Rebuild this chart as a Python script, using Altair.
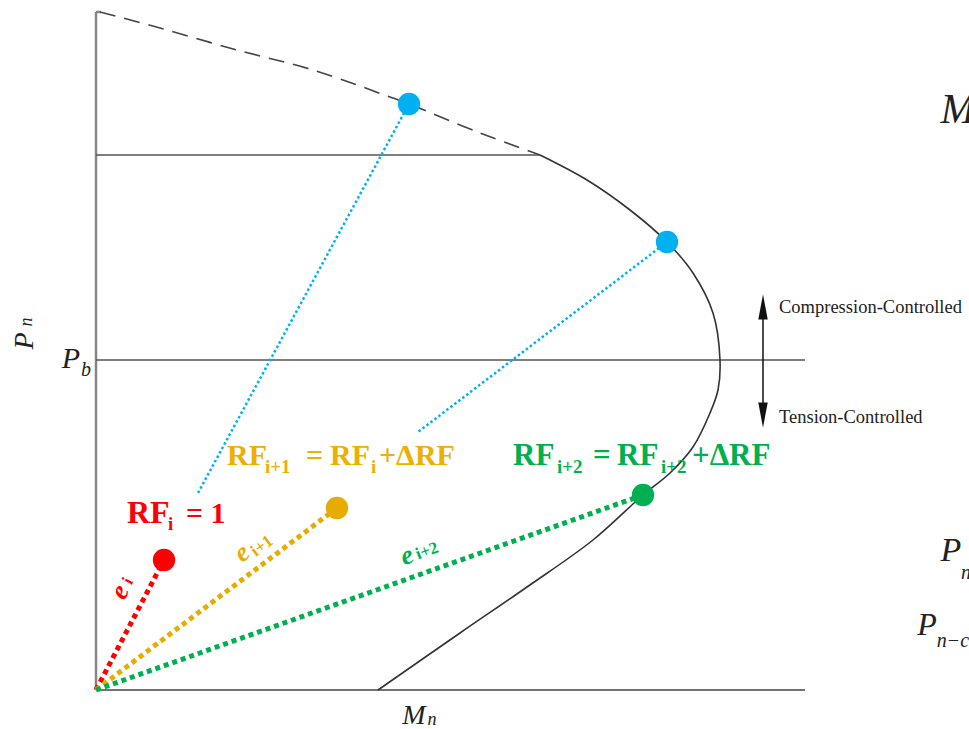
import altair as alt
import pandas as pd

W, H = 969, 729
# diagram units: M (moment) to the right, P (axial load) upward; origin at the axes corner
M_DOMAIN = [-96, 873]
P_DOMAIN = [-39, 690]

# ---------------- straight frame lines ----------------
frame_M1 = [0, 0, 0, 0, 0]
frame_P1 = [0, 678, 0, 535, 330]
frame_M2 = [0, 5, 709, 444, 709]
frame_P2 = [678, 678, 0, 535, 330]
frame_color = ["#858585", "#858585", "#444444", "#555555", "#555555"]
frame_width = [2.5, 2.5, 1.6, 1.6, 1.6]

# ---------------- interaction curve ----------------
dash_M = [4, 64, 141, 217, 294, 313, 384, 444]
dash_P = [678, 662, 640, 620, 593, 586, 557, 535]

curve_M = [444, 491, 534, 571, 597, 617, 624, 622, 614, 597, 574, 547, 497, 431, 364, 282]
curve_P = [535, 510, 480, 448, 417, 377, 330, 300, 277, 243, 217, 195, 150, 103, 57, 0]

# ---------------- iteration points ----------------
pt_name = ["blue1", "blue2", "red", "gold", "green"]
pt_M = [313, 571, 68, 241, 547]
pt_P = [586, 448, 130, 182, 195]
pt_color = ["#00B0F0", "#00B0F0", "#FF0000", "#E6AC00", "#00B050"]

# eccentricity rays from the origin (thick dotted)
ray_M2 = [68, 241, 547]
ray_P2 = [130, 182, 195]
ray_color = ["#FF0000", "#E6AC00", "#00B050"]

# blue thin dotted leaders
lead_M1 = [313, 571]
lead_P1 = [586, 448]
lead_M2 = [102, 322]
lead_P2 = [197, 258]

# ---------------- bold labels (RF) ----------------
bold_text = ["RF", "i", "= 1",
             "RF", "i+1", "=", "RF", "i", "+ΔRF",
             "RF", "i+2", "=", "RF", "i+2", "+ΔRF"]
bold_M = [31, 72, 90,
          131, 169, 210, 234, 275, 283,
          417, 461, 497, 521, 565, 596]
bold_P = [167, 160, 167,
          225, 217, 225, 225, 217, 225,
          225, 217, 225, 225, 217, 225]
bold_size = [32, 19, 30,
             30, 19, 30, 30, 19, 30,
             31, 19, 31, 31, 19, 31]
bold_color = ["#FF0000"] * 3 + ["#EDB000"] * 6 + ["#00B050"] * 6

# ---------------- e labels along the rays ----------------
e_M = [24, 146, 311]
e_P = [98, 137, 134]
e_angle = [298, 323, 340]
e_color = ["#FF0000", "#E6AC00", "#00B050"]

esub_text = ["i", "i+1", "i+2"]
esub_M = [32, 166, 331]
esub_P = [109, 144, 139]

# ---------------- italic labels ----------------
it_text = ["P", "n", "P", "b", "M", "n", "M", "P", "n", "P", "n−c"]
it_M = [-71, -69, -25, -10, 318, 336, 862, 855, 870, 831, 857]
it_P = [349, 368, 331, 320, -26, -30, 580, 139, 117, 65, 49]
it_size = [28, 18, 30, 20, 28, 18, 42, 34, 20, 32, 20]
it_angle = [270, 270, 0, 0, 0, 0, 0, 0, 0, 0, 0]

# ---------------- regime annotation ----------------
reg_text = ["Compression-Controlled", "Tension-Controlled"]
reg_M = [683, 683]
reg_P = [383, 273]

arrow_M = [667]
arrow_P1 = [390]
arrow_P2 = [268]
head_M = [667, 667]
head_P = [383, 275]
head_shape = ["M0,-1L0.38,1L-0.38,1Z", "M0,1L0.38,-1L-0.38,-1Z"]

xs = alt.Scale(domain=M_DOMAIN, nice=False, zero=False)
ys = alt.Scale(domain=P_DOMAIN, nice=False, zero=False)


def X(f):
    return alt.X(f, type="quantitative", scale=xs, axis=None)


def Y(f):
    return alt.Y(f, type="quantitative", scale=ys, axis=None)


frame = alt.Chart(pd.DataFrame({"M": frame_M1, "P": frame_P1, "M2": frame_M2, "P2": frame_P2,
                                "c": frame_color, "w": frame_width})).mark_rule(strokeCap="butt").encode(
    x=X("M"), y=Y("P"), x2="M2", y2="P2",
    color=alt.Color("c:N", scale=None),
    strokeWidth=alt.StrokeWidth("w:Q", scale=None))

dashed = alt.Chart(pd.DataFrame({"M": dash_M, "P": dash_P, "i": range(len(dash_M))})).mark_line(
    interpolate="catmull-rom", color="#444444", strokeWidth=1.6, strokeDash=[16, 9]).encode(
    x=X("M"), y=Y("P"), order="i:Q")

solid = alt.Chart(pd.DataFrame({"M": curve_M, "P": curve_P, "i": range(len(curve_M))})).mark_line(
    interpolate="catmull-rom", color="#333333", strokeWidth=1.6).encode(
    x=X("M"), y=Y("P"), order="i:Q")

rays = alt.Chart(pd.DataFrame({"M": [0, 0, 0], "P": [0, 0, 0], "M2": ray_M2, "P2": ray_P2,
                               "c": ray_color})).mark_rule(strokeWidth=5, strokeDash=[5, 4], strokeCap="butt").encode(
    x=X("M"), y=Y("P"), x2="M2", y2="P2", color=alt.Color("c:N", scale=None))

leaders = alt.Chart(pd.DataFrame({"M": lead_M1, "P": lead_P1, "M2": lead_M2, "P2": lead_P2})).mark_rule(
    strokeWidth=2.5, strokeDash=[2.5, 2.5], color="#00B0F0", strokeCap="butt").encode(
    x=X("M"), y=Y("P"), x2="M2", y2="P2")

points = alt.Chart(pd.DataFrame({"name": pt_name, "M": pt_M, "P": pt_P, "c": pt_color})).mark_circle(
    size=500, opacity=1).encode(x=X("M"), y=Y("P"), color=alt.Color("c:N", scale=None))

bold = alt.Chart(pd.DataFrame({"t": bold_text, "M": bold_M, "P": bold_P, "s": bold_size,
                               "c": bold_color})).mark_text(
    font="Liberation Serif", fontWeight="bold", align="left", baseline="alphabetic").encode(
    x=X("M"), y=Y("P"), text="t:N", size=alt.Size("s:Q", scale=None), color=alt.Color("c:N", scale=None))

e_lab = alt.Chart(pd.DataFrame({"t": ["e"] * 3, "M": e_M, "P": e_P, "a": e_angle, "c": e_color})).mark_text(
    font="Liberation Serif", fontStyle="italic", fontWeight="bold", fontSize=27,
    align="center", baseline="middle").encode(
    x=X("M"), y=Y("P"), text="t:N", angle=alt.Angle("a:Q", scale=None), color=alt.Color("c:N", scale=None))

e_sub = alt.Chart(pd.DataFrame({"t": esub_text, "M": esub_M, "P": esub_P, "a": e_angle, "c": e_color})).mark_text(
    font="Liberation Serif", fontWeight="bold", fontSize=17, align="center", baseline="middle").encode(
    x=X("M"), y=Y("P"), text="t:N", angle=alt.Angle("a:Q", scale=None), color=alt.Color("c:N", scale=None))

ital = alt.Chart(pd.DataFrame({"t": it_text, "M": it_M, "P": it_P, "s": it_size, "a": it_angle})).mark_text(
    font="Liberation Serif", fontStyle="italic", align="center", baseline="middle", color="#222222").encode(
    x=X("M"), y=Y("P"), text="t:N", size=alt.Size("s:Q", scale=None), angle=alt.Angle("a:Q", scale=None))

regime = alt.Chart(pd.DataFrame({"t": reg_text, "M": reg_M, "P": reg_P})).mark_text(
    font="Liberation Serif", fontSize=18.5, align="left", baseline="middle", color="#222222").encode(
    x=X("M"), y=Y("P"), text="t:N")

arrow = alt.Chart(pd.DataFrame({"M": arrow_M, "P": arrow_P1, "P2": arrow_P2})).mark_rule(
    color="#111111", strokeWidth=1.5).encode(x=X("M"), y=Y("P"), y2="P2")

heads = alt.Chart(pd.DataFrame({"M": head_M, "P": head_P, "sh": head_shape})).mark_point(
    filled=True, size=625, color="#111111", opacity=1).encode(
    x=X("M"), y=Y("P"), shape=alt.Shape("sh:N", scale=None))

chart = alt.layer(frame, dashed, solid, leaders, rays, points, bold, e_lab, e_sub, ital, regime, arrow,
                  heads).properties(
    width=W, height=H, padding=0, autosize=alt.AutoSizeParams(type="none"), background="white"
).configure_view(stroke=None)

chart.save("out.html", embed_options={"renderer": "svg", "actions": False})
